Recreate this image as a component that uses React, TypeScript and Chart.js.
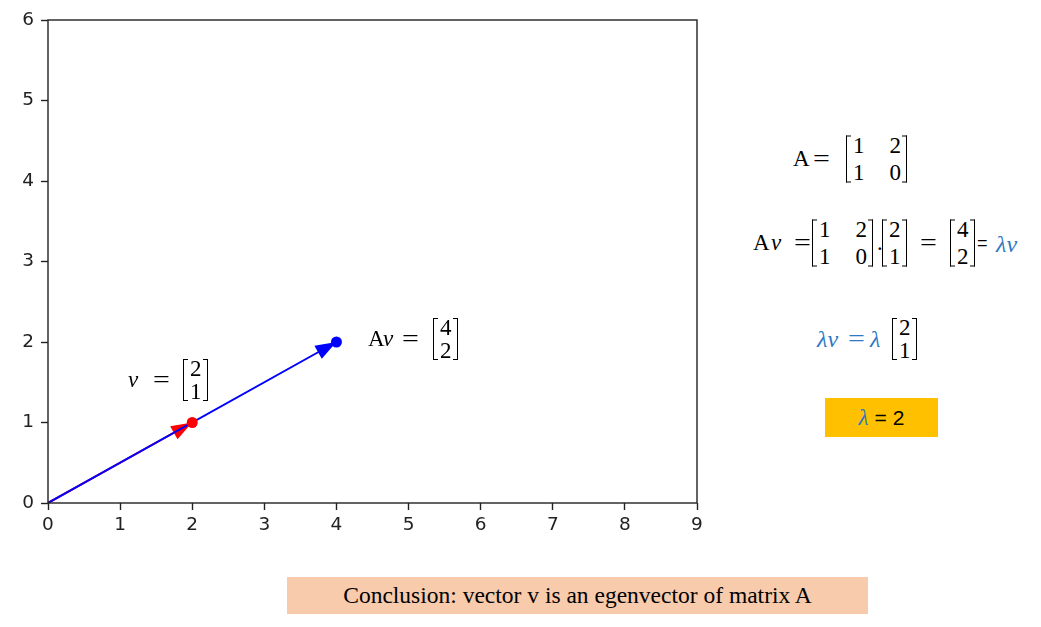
import React, { useEffect, useRef } from 'react';
import { Chart, registerables } from 'chart.js';

Chart.register(...registerables);

// ---- data ----
const xTicks = [0, 1, 2, 3, 4, 5, 6, 7, 8, 9];
const yTicks = [0, 1, 2, 3, 4, 5, 6];
const origin = [0, 0];
const vectorV = [2, 1];
const vectorAv = [4, 2];
const matrixA = [[1, 2], [1, 0]];
const lambdaValue = 2;
const conclusionText = 'Conclusion: vector v is an egenvector of matrix A';

const RED = '#ff0000';
const BLUE = '#0000ff';
const MATH_BLUE = '#2b78c5';
const AXIS = '#222222';
const mathFont = '"Liberation Serif", "DejaVu Serif", serif';
const MATH_SIZE = 23;

const arrowPlugin = {
  id: 'arrowheads',
  afterDatasetDraw(chart: any, args: any) {
    const ds = chart.data.datasets[args.index] as any;
    if (!ds.arrowHead) return;
    const pts = args.meta.data;
    const a = pts[0];
    const b = pts[pts.length - 1];
    const ang = Math.atan2(b.y - a.y, b.x - a.x);
    const L = 21;
    const W = 7.5;
    const c = Math.cos(ang);
    const s = Math.sin(ang);
    const ctx = chart.ctx;
    ctx.save();
    ctx.fillStyle = ds.borderColor;
    ctx.beginPath();
    ctx.moveTo(b.x, b.y);
    ctx.lineTo(b.x - L * c + W * s, b.y - L * s - W * c);
    ctx.lineTo(b.x - L * c - W * s, b.y - L * s + W * c);
    ctx.closePath();
    ctx.fill();
    ctx.restore();
  },
};

const framePlugin = {
  id: 'frame',
  afterDraw(chart: any) {
    const { ctx, chartArea } = chart;
    ctx.save();
    ctx.strokeStyle = AXIS;
    ctx.lineWidth = 1.4;
    ctx.strokeRect(chartArea.left, chartArea.top, chartArea.right - chartArea.left, chartArea.bottom - chartArea.top);
    ctx.restore();
  },
};

function Bracket({ side }: { side: 'left' | 'right' }) {
  const line = '1.3px solid #000';
  const st: any = {
    alignSelf: 'stretch',
    width: 4,
    borderTop: line,
    borderBottom: line,
  };
  if (side === 'left') st.borderLeft = line;
  else st.borderRight = line;
  return <span style={st} />;
}

function Matrix({ rows, colGap = 24, lineHeight = 20, rowGap = 6 }: any) {
  return (
    <span style={{ display: 'inline-flex', alignItems: 'stretch' }}>
      <Bracket side="left" />
      <span
        style={{
          display: 'inline-grid',
          gridTemplateColumns: `repeat(${rows[0].length}, auto)`,
          columnGap: colGap,
          rowGap: rowGap,
          padding: '0 1px 0 2px',
          lineHeight: lineHeight + 'px',
        }}
      >
        {rows.flatMap((r: number[], i: number) =>
          r.map((v, j) => (
            <span key={i + '-' + j} style={{ textAlign: 'center' }}>
              {v}
            </span>
          ))
        )}
      </span>
      <Bracket side="right" />
    </span>
  );
}

// one piece of a formula, placed by its left edge and its vertical centre
function P({ x, cy, children, style }: any) {
  return (
    <div
      style={{
        position: 'absolute',
        left: x,
        top: cy,
        transform: 'translateY(-50%)',
        display: 'flex',
        alignItems: 'center',
        fontFamily: mathFont,
        fontSize: MATH_SIZE,
        color: '#000',
        whiteSpace: 'nowrap',
        lineHeight: '26px',
        ...style,
      }}
    >
      {children}
    </div>
  );
}

function Eq({ x, cy, color = '#000' }: any) {
  return (
    <P x={x} cy={cy} style={{ color }}>
      <span style={{ display: 'inline-block', transform: 'scaleX(1.3)', transformOrigin: 'left center' }}>=</span>
    </P>
  );
}

const col = (v: number[]) => v.map((x) => [x]);

export default function App() {
  const ref = useRef<HTMLCanvasElement>(null);
  useEffect(() => {
    if (!ref.current) return;
    const tickFont = { family: '"DejaVu Sans", sans-serif', size: 18.5 };
    const chart = new Chart(ref.current, {
      type: 'line',
      data: {
        datasets: [
          {
            data: [
              { x: origin[0], y: origin[1] },
              { x: vectorV[0], y: vectorV[1] },
            ],
            borderColor: RED,
            borderWidth: 2,
            pointRadius: 0,
            order: 3,
            arrowHead: true,
          } as any,
          {
            data: [
              { x: origin[0], y: origin[1] },
              { x: vectorAv[0], y: vectorAv[1] },
            ],
            borderColor: BLUE,
            borderWidth: 2,
            pointRadius: 0,
            order: 2,
            arrowHead: true,
          } as any,
          {
            data: [
              { x: vectorV[0], y: vectorV[1] },
              { x: vectorAv[0], y: vectorAv[1] },
            ],
            showLine: false,
            pointRadius: 5.5,
            pointBorderWidth: 0,
            pointBackgroundColor: [RED, BLUE],
            order: 1,
          } as any,
        ],
      },
      options: {
        animation: false,
        responsive: false,
        events: [],
        layout: { padding: { left: 8, top: 20, right: 23, bottom: 17 } },
        plugins: { legend: { display: false }, tooltip: { enabled: false } },
        scales: {
          x: {
            type: 'linear',
            min: xTicks[0],
            max: xTicks[xTicks.length - 1],
            afterBuildTicks: (s: any) => {
              s.ticks = xTicks.map((v) => ({ value: v }));
            },
            afterFit: (s: any) => {
              s.height = 40;
            },
            grid: { drawOnChartArea: false, drawTicks: true, tickLength: 7, tickWidth: 1.4, tickColor: AXIS },
            border: { display: false },
            ticks: { color: AXIS, font: tickFont, padding: 4, maxRotation: 0, autoSkip: false },
          },
          y: {
            type: 'linear',
            min: yTicks[0],
            max: yTicks[yTicks.length - 1],
            afterBuildTicks: (s: any) => {
              s.ticks = yTicks.map((v) => ({ value: v }));
            },
            afterFit: (s: any) => {
              s.width = 40;
            },
            grid: { drawOnChartArea: false, drawTicks: true, tickLength: 7, tickWidth: 1.4, tickColor: AXIS },
            border: { display: false },
            ticks: { color: AXIS, font: tickFont, padding: 7, autoSkip: false },
          },
        },
      } as any,
      plugins: [arrowPlugin, framePlugin],
    });
    return () => chart.destroy();
  }, []);

  const blueIt = { color: MATH_BLUE, fontStyle: 'italic' as const };
  const it = { fontStyle: 'italic' as const };

  return (
    <div
      style={{
        position: 'absolute',
        left: 0,
        top: 0,
        width: 1041,
        height: 627,
        background: '#fff',
        overflow: 'hidden',
      }}
    >
      <canvas ref={ref} width={720} height={560} style={{ position: 'absolute', left: 0, top: 0, display: 'block' }} />

      {/* v = [2;1] */}
      <P x={128} cy={380} style={it}>ν</P>
      <Eq x={153} cy={380} />
      <P x={183} cy={380}>
        <Matrix rows={col(vectorV)} lineHeight={19} rowGap={4} />
      </P>

      {/* Av = [4;2] */}
      <P x={368} cy={339}>A</P>
      <P x={383} cy={339} style={it}>ν</P>
      <Eq x={402} cy={339} />
      <P x={433} cy={339}>
        <Matrix rows={col(vectorAv)} lineHeight={19} rowGap={4} />
      </P>

      {/* A = [[1,2],[1,0]] */}
      <P x={793} cy={159}>A</P>
      <Eq x={813} cy={159} />
      <P x={846} cy={159}>
        <Matrix rows={matrixA} colGap={25} lineHeight={20} rowGap={7} />
      </P>

      {/* Av = A . v = [4;2] = lambda v */}
      <P x={753} cy={243}>A</P>
      <P x={771} cy={243} style={it}>ν</P>
      <Eq x={794} cy={243} />
      <P x={812} cy={243}>
        <Matrix rows={matrixA} colGap={25} lineHeight={20} rowGap={7} />
      </P>
      <P x={876} cy={249}>·</P>
      <P x={882} cy={243}>
        <Matrix rows={col(vectorV)} lineHeight={20} rowGap={7} />
      </P>
      <Eq x={920} cy={243} />
      <P x={950} cy={243}>
        <Matrix rows={col(vectorAv)} lineHeight={20} rowGap={7} />
      </P>
      <P x={977} cy={243} style={{ fontFamily: '"Liberation Sans", sans-serif', fontSize: 18 }}>=</P>
      <P x={996} cy={244} style={{ ...blueIt, fontSize: 24 }}>λv</P>

      {/* lambda v = lambda [2;1] */}
      <P x={817} cy={339} style={{ ...blueIt, fontSize: 24 }}>λv</P>
      <Eq x={848} cy={339} color={MATH_BLUE} />
      <P x={870} cy={339} style={{ ...blueIt, fontSize: 24 }}>λ</P>
      <P x={892} cy={339}>
        <Matrix rows={col(vectorV)} lineHeight={19} rowGap={4} />
      </P>

      {/* lambda = 2 box */}
      <div
        style={{
          position: 'absolute',
          left: 825,
          top: 398,
          width: 113,
          height: 39,
          background: '#ffc000',
          display: 'flex',
          alignItems: 'center',
          justifyContent: 'center',
          fontFamily: '"Liberation Sans", "DejaVu Sans", sans-serif',
          fontSize: 21,
          color: '#000',
        }}
      >
        <span style={{ color: MATH_BLUE, fontStyle: 'italic', fontFamily: mathFont, fontSize: 23 }}>λ</span>
        <span style={{ marginLeft: 6 }}>= {lambdaValue}</span>
      </div>

      {/* conclusion */}
      <div
        style={{
          position: 'absolute',
          left: 287,
          top: 577,
          width: 581,
          height: 37,
          background: '#f8cbad',
          display: 'flex',
          alignItems: 'center',
          justifyContent: 'center',
          fontFamily: mathFont,
          fontSize: 23.5,
          color: '#000',
        }}
      >
        {conclusionText}
      </div>
    </div>
  );
}
